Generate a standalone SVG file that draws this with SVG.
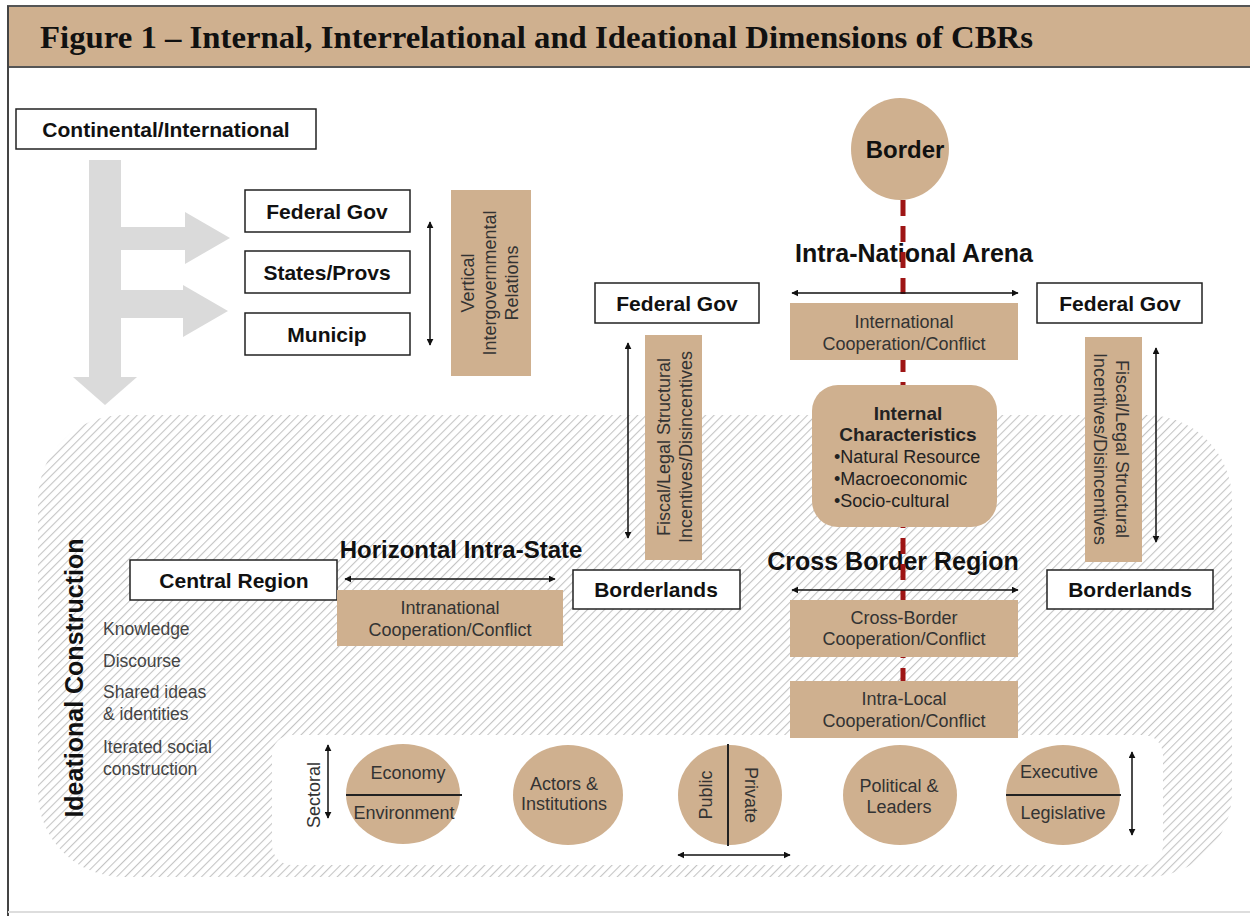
<svg xmlns="http://www.w3.org/2000/svg" width="1250" height="916" viewBox="0 0 1250 916">
<style>
.wbox{fill:#fff;stroke:#222;stroke-width:1.5}
.tan{fill:#cfb08f}
.lbl{font-family:"Liberation Sans",Arial,sans-serif;font-weight:bold;font-size:21px;fill:#111;text-anchor:middle}
.hd{font-family:"Liberation Sans",Arial,sans-serif;font-weight:bold;font-size:25px;fill:#111;text-anchor:middle}
.tt{font-family:"Liberation Sans",Arial,sans-serif;font-size:18px;fill:#333;text-anchor:middle}
.tl{font-family:"Liberation Sans",Arial,sans-serif;font-size:18px;fill:#222;text-anchor:start}
.side{font-family:"Liberation Sans",Arial,sans-serif;font-size:17.5px;fill:#444}
.arr{stroke:#111;stroke-width:1.5;fill:none;marker-start:url(#ah);marker-end:url(#ah)}
.div{stroke:#222;stroke-width:2}
</style>
<defs>
<marker id="ah" viewBox="0 0 10 10" refX="9" refY="5" markerWidth="7" markerHeight="7" orient="auto-start-reverse" markerUnits="userSpaceOnUse">
<path d="M0,0 L10,5 L0,10 z" fill="#111"/>
</marker>
<pattern id="hatch" width="6" height="6" patternUnits="userSpaceOnUse" patternTransform="rotate(45)">
<line x1="0" y1="0" x2="0" y2="6" stroke="#c4c4c4" stroke-width="2.2"/>
</pattern>
</defs>
<rect width="1250" height="916" fill="#fff"/>

<g id="frame">
<rect x="8" y="6" width="1250" height="61" fill="#cfb08f" stroke="#555" stroke-width="2"/>
<line x1="8" y1="6" x2="8" y2="916" stroke="#444" stroke-width="2"/>
<line x1="8" y1="912" x2="1250" y2="912" stroke="#ddd" stroke-width="2"/>
<text x="40" y="48" font-family="Liberation Serif,Times New Roman,serif" font-weight="bold" font-size="31" fill="#111" textLength="993" lengthAdjust="spacingAndGlyphs">Figure 1 – Internal, Interrelational and Ideational Dimensions of CBRs</text>
</g>

<g id="ideational-area">
<rect x="38" y="415" width="1194" height="462" rx="85" fill="url(#hatch)"/>
<rect x="272" y="735" width="891" height="130" rx="20" fill="#fff"/>
<text transform="translate(83,678) rotate(-90)" class="hd">Ideational Construction</text>
<text x="103" y="635" class="side">Knowledge</text>
<text x="103" y="667" class="side">Discourse</text>
<text x="103" y="698" class="side">Shared ideas</text>
<text x="103" y="720" class="side">&amp; identities</text>
<text x="103" y="753" class="side">Iterated social</text>
<text x="103" y="775" class="side">construction</text>
</g>

<g id="flow-arrow">
<path d="M89,160 H121 V227 H185 V212 L230,238 L185,264 V250 H121 V290 H183 V285 L228,311 L183,337 V318 H121 V377 H137 L105,405 L73,377 H89 Z" fill="#dadada"/>
</g>

<g id="headings">
<text x="914" y="262" class="hd">Intra-National Arena</text>
<text x="893" y="570" class="hd">Cross Border Region</text>
<text x="461" y="558" class="hd" style="font-size:24px">Horizontal Intra-State</text>
</g>

<g id="connectors">
<line x1="903" y1="200" x2="903" y2="738" stroke="#9e1515" stroke-width="5" stroke-dasharray="16,10"/>
<line x1="430" y1="222" x2="430" y2="345" class="arr"/>
<line x1="792" y1="293" x2="1018" y2="293" class="arr"/>
<line x1="628" y1="343" x2="628" y2="538" class="arr"/>
<line x1="1156" y1="348" x2="1156" y2="542" class="arr"/>
<line x1="345" y1="579" x2="555" y2="579" class="arr"/>
<line x1="792" y1="590" x2="1018" y2="590" class="arr"/>
<line x1="328" y1="745" x2="328" y2="818" class="arr"/>
<line x1="678" y1="855" x2="790" y2="855" class="arr"/>
<line x1="1132" y1="752" x2="1132" y2="835" class="arr"/>
</g>

<g id="continental"><rect x="16" y="109" width="300" height="40" class="wbox"/><text x="166" y="137" class="lbl">Continental/International</text></g>
<g id="federal-gov-1"><rect x="245" y="190" width="165" height="42" class="wbox"/><text x="327" y="219" class="lbl">Federal Gov</text></g>
<g id="states-provs"><rect x="245" y="251" width="165" height="42" class="wbox"/><text x="327" y="280" class="lbl">States/Provs</text></g>
<g id="municip"><rect x="245" y="313" width="165" height="42" class="wbox"/><text x="327" y="342" class="lbl">Municip</text></g>
<g id="vertical-relations"><rect x="451" y="190" width="80" height="186" class="tan"/>
<text transform="translate(491,283) rotate(-90)" class="tt"><tspan x="0" y="-17">Vertical</tspan><tspan x="0" y="5">Intergovernmental</tspan><tspan x="0" y="27">Relations</tspan></text></g>

<g id="border"><ellipse cx="900" cy="149" rx="49" ry="51" class="tan"/><text x="905" y="158" class="lbl" style="font-size:24px">Border</text></g>

<g id="federal-gov-2"><rect x="595" y="283" width="164" height="40" class="wbox"/><text x="677" y="311" class="lbl">Federal Gov</text></g>
<g id="federal-gov-3"><rect x="1037" y="283" width="165" height="40" class="wbox"/><text x="1120" y="311" class="lbl">Federal Gov</text></g>

<g id="international-coop"><rect x="790" y="303" width="228" height="57" class="tan"/><text x="904" y="328" class="tt">International</text><text x="904" y="350" class="tt">Cooperation/Conflict</text></g>

<g id="internal-characteristics"><rect x="812" y="385" width="185" height="142" rx="26" class="tan"/>
<text x="908" y="420" class="tt" style="font-weight:bold;font-size:19px;fill:#222">Internal</text>
<text x="908" y="441" class="tt" style="font-weight:bold;font-size:19px;fill:#222">Characteristics</text>
<text x="834" y="463" class="tl">•Natural Resource</text>
<text x="834" y="485" class="tl">•Macroeconomic</text>
<text x="834" y="507" class="tl">•Socio-cultural</text></g>

<g id="fiscal-left"><rect x="645" y="335" width="57" height="225" class="tan"/>
<text transform="translate(673,447) rotate(-90)" class="tt"><tspan x="0" y="-3">Fiscal/Legal Structural</tspan><tspan x="0" y="19">Incentives/Disincentives</tspan></text></g>
<g id="fiscal-right"><rect x="1085" y="337" width="57" height="225" class="tan"/>
<text transform="translate(1113,449) rotate(90)" class="tt"><tspan x="0" y="-3">Fiscal/Legal Structural</tspan><tspan x="0" y="19">Incentives/Disincentives</tspan></text></g>

<g id="central-region"><rect x="130" y="560" width="207" height="40" class="wbox"/><text x="234" y="588" class="lbl">Central Region</text></g>
<g id="intranational-coop"><rect x="337" y="590" width="226" height="56" class="tan"/><text x="450" y="614" class="tt">Intranational</text><text x="450" y="636" class="tt">Cooperation/Conflict</text></g>
<g id="borderlands-left"><rect x="573" y="570" width="167" height="39" class="wbox"/><text x="656" y="597" class="lbl">Borderlands</text></g>
<g id="borderlands-right"><rect x="1047" y="570" width="166" height="39" class="wbox"/><text x="1130" y="597" class="lbl">Borderlands</text></g>

<g id="cross-border-coop"><rect x="790" y="600" width="228" height="57" class="tan"/><text x="904" y="624" class="tt">Cross-Border</text><text x="904" y="645" class="tt">Cooperation/Conflict</text></g>
<g id="intra-local-coop"><rect x="790" y="681" width="228" height="57" class="tan"/><text x="904" y="705" class="tt">Intra-Local</text><text x="904" y="727" class="tt">Cooperation/Conflict</text></g>

<g id="sectoral"><text transform="translate(320,795) rotate(-90)" class="tt">Sectoral</text></g>
<g id="economy-environment"><ellipse cx="403" cy="794" rx="57" ry="50" class="tan"/><line x1="346" y1="795" x2="462" y2="795" class="div"/>
<text x="408" y="779" class="tt">Economy</text><text x="404" y="819" class="tt">Environment</text></g>
<g id="actors-institutions"><ellipse cx="568" cy="795" rx="55" ry="50" class="tan"/><text x="564" y="790" class="tt">Actors &amp;</text><text x="564" y="810" class="tt">Institutions</text></g>
<g id="public-private"><ellipse cx="730" cy="795" rx="52" ry="50" class="tan"/><line x1="728" y1="744" x2="728" y2="846" class="div" stroke-width="1.5"/>
<text transform="translate(712,795) rotate(-90)" class="tt">Public</text><text transform="translate(745,795) rotate(90)" class="tt">Private</text></g>
<g id="political-leaders"><ellipse cx="900" cy="795" rx="57" ry="50" class="tan"/><text x="899" y="792" class="tt">Political &amp;</text><text x="899" y="813" class="tt">Leaders</text></g>
<g id="executive-legislative"><ellipse cx="1063" cy="795" rx="57" ry="50" class="tan"/><line x1="1006" y1="795" x2="1121" y2="795" class="div"/>
<text x="1059" y="778" class="tt">Executive</text><text x="1063" y="819" class="tt">Legislative</text></g>
</svg>
